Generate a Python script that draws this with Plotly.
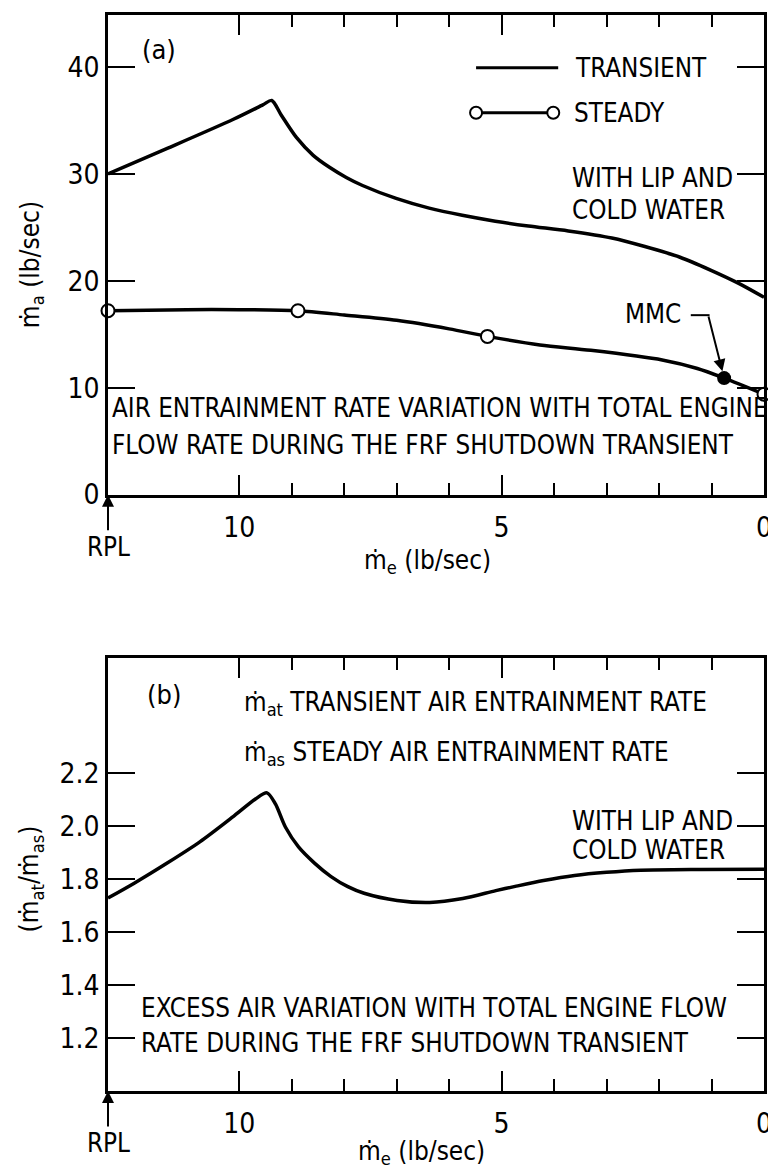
import plotly.graph_objects as go

# ---- data ----
transient_x = [12.5, 11.36, 10.11, 9.55, 9.38, 9.2, 8.91, 8.59, 8.28, 7.96, 7.65, 7.01, 6.38, 5.75,
               5.12, 4.49, 3.73, 2.9, 2.27, 1.6, 1.02, 0.5, 0.0]
transient_y = [30.0, 32.4, 35.1, 36.45, 36.86, 35.5, 33.4, 31.73, 30.61, 29.66, 28.91, 27.7, 26.79, 26.12,
               25.57, 25.12, 24.66, 24.0, 23.2, 22.2, 21.0, 19.8, 18.45]

steady_x = [12.5, 11.0, 10.0, 8.88, 8.0, 7.0, 6.0, 5.27, 4.27, 3.3, 1.94, 1.27, 0.76, 0.0]
steady_y = [17.2, 17.3, 17.3, 17.2, 16.8, 16.3, 15.5, 14.8, 14.0, 13.5, 12.6, 11.8, 10.9, 9.4]

steady_pts_x = [12.5, 8.88, 5.27, 0.0]
steady_pts_y = [17.2, 17.2, 14.8, 9.4]
mmc_x = [0.76]
mmc_y = [10.9]

ratio_x = [12.5, 12.0, 11.38, 10.75, 10.13, 9.69, 9.47, 9.31, 9.12, 8.87, 8.56, 8.25, 7.93, 7.62, 6.99,
           6.37, 5.74, 5.11, 4.74, 4.2, 3.61, 3.0, 2.35, 1.2, 0.0]
ratio_y = [1.728, 1.784, 1.859, 1.940, 2.033, 2.102, 2.125, 2.083, 1.996, 1.921, 1.859, 1.809, 1.771, 1.746, 1.719,
           1.711, 1.726, 1.756, 1.772, 1.794, 1.813, 1.825, 1.833, 1.836, 1.837]

top_yticks = [0, 10, 20, 30, 40]
bot_yticks = [1.2, 1.4, 1.6, 1.8, 2.0, 2.2]
x_major = [0, 5, 10]
x_minor = [1, 2, 3, 4, 6, 7, 8, 9]

FONT = "Liberation Sans Narrow, DejaVu Sans Condensed, Arial Narrow, sans-serif"
TXT = 25.8
OFF = 8  # page body margin
W, H = 776 - OFF, 1176 - OFF
L, R, T, B = 100, 5, 4, 85


def px(x):
    return (x - OFF - L) / (W - L - R)


def py(y):
    return (H - B - (y - OFF)) / (H - T - B)


fig = go.Figure()

line = dict(color="black", width=3.5, shape="spline", smoothing=0.8)
fig.add_trace(go.Scatter(x=transient_x, y=transient_y, mode="lines", line=line, xaxis="x", yaxis="y"))
fig.add_trace(go.Scatter(x=steady_x, y=steady_y, mode="lines", line=line, xaxis="x", yaxis="y"))
fig.add_trace(go.Scatter(x=steady_pts_x, y=steady_pts_y, mode="markers", cliponaxis=False,
                         marker=dict(size=13, color="white", line=dict(color="black", width=2)),
                         xaxis="x", yaxis="y"))
fig.add_trace(go.Scatter(x=mmc_x, y=mmc_y, mode="markers", cliponaxis=False,
                         marker=dict(size=14, color="black"), xaxis="x", yaxis="y"))
fig.add_trace(go.Scatter(x=ratio_x, y=ratio_y, mode="lines", line=line, xaxis="x2", yaxis="y2"))

xcommon = dict(
    range=[12.5, 0], tickvals=x_major, ticktext=["0", "5", "10"],
    ticks="inside", ticklen=20, tickwidth=2, tickcolor="black",
    minor=dict(tickvals=x_minor, ticks="inside", ticklen=12, tickwidth=2, tickcolor="black"),
    showline=True, linewidth=2.5, linecolor="black", mirror="ticks",
    showgrid=False, zeroline=False, ticklabelstandoff=6, ticklabeloverflow="allow",
    tickfont=dict(size=28, family=FONT, color="black"),
)
ycommon = dict(
    ticks="inside", ticklen=27, tickwidth=2, tickcolor="black",
    showline=True, linewidth=2.5, linecolor="black", mirror="ticks",
    showgrid=False, zeroline=False,
    tickfont=dict(size=28, family=FONT, color="black"),
)

fig.update_layout(
    width=W, height=H,
    margin=dict(l=L, r=R, t=T, b=B),
    paper_bgcolor="white", plot_bgcolor="white",
    showlegend=False,
    font=dict(family=FONT, size=TXT, color="black"),
    xaxis=dict(xcommon, domain=[0, 1], anchor="y"),
    yaxis=dict(ycommon, domain=[py(493), 1], range=[0, 44.85], tickvals=top_yticks, anchor="x"),
    xaxis2=dict(xcommon, domain=[0, 1], anchor="y2"),
    yaxis2=dict(ycommon, domain=[0, py(657)], range=[1.0, 2.633], tickvals=bot_yticks,
                ticktext=["1.2", "1.4", "1.6", "1.8", "2.0", "2.2"], anchor="x2"),
)


def note(text, x, y, xanchor="left", size=TXT, angle=0):
    fig.add_annotation(text=text, x=px(x), y=py(y), xref="paper", yref="paper",
                       xanchor=xanchor, yanchor="middle", showarrow=False, textangle=angle,
                       font=dict(size=size, family=FONT, color="black"), align="left")


# panel (a) texts
note("(a)", 140, 47, size=27)
note("TRANSIENT", 578, 65)
note("STEADY", 577, 110)
note("WITH LIP AND", 575, 175)
note("COLD WATER", 575, 208)
note("MMC", 628, 312)
note("AIR ENTRAINMENT RATE VARIATION WITH TOTAL ENGINE", 110, 406)
note("FLOW RATE DURING THE FRF SHUTDOWN TRANSIENT", 110, 443)
note("ṁ<sub>e</sub> (lb/sec)", 431, 560, xanchor="center", size=26)
note("ṁ<sub>a</sub> (lb/sec)", 30, 262, xanchor="center", size=26, angle=-90)

# panel (b) texts
note("(b)", 145, 693, size=27)
note("ṁ<sub>at</sub> TRANSIENT AIR ENTRAINMENT RATE", 243, 702)
note("ṁ<sub>as</sub> STEADY AIR ENTRAINMENT RATE", 243, 753)
note("WITH LIP AND", 575, 820)
note("COLD WATER", 575, 849)
note("EXCESS AIR VARIATION WITH TOTAL ENGINE FLOW", 139, 1008)
note("RATE DURING THE FRF SHUTDOWN TRANSIENT", 139, 1043)
note("ṁ<sub>e</sub> (lb/sec)", 425, 1153, xanchor="center", size=26)
note("(ṁ<sub>at</sub>/ṁ<sub>as</sub>)", 30, 878, xanchor="center", size=26, angle=-90)

# RPL arrows
for xr, yr, y0 in [("x", "y", 0), ("x2", "y2", 1.0)]:
    fig.add_annotation(text="RPL", x=12.5, y=y0, xref=xr, yref=yr, showarrow=True,
                       ax=0, ay=52, arrowhead=2, arrowsize=1.2, arrowwidth=2, arrowcolor="black",
                       font=dict(size=TXT, family=FONT, color="black"))

# MMC pointer
fig.add_shape(type="line", xref="paper", yref="paper", x0=px(697), x1=px(716), y0=py(313), y1=py(313),
              line=dict(color="black", width=2))
fig.add_annotation(text="", x=mmc_x[0], y=mmc_y[0], xref="x", yref="y", showarrow=True,
                   ax=-16, ay=-63, arrowhead=2, arrowsize=1.2, arrowwidth=2, arrowcolor="black", standoff=7)

# hand-drawn legend key
fig.add_shape(type="line", xref="paper", yref="paper", x0=px(480), x1=px(563), y0=py(65), y1=py(65),
              line=dict(color="black", width=3))
fig.add_shape(type="line", xref="paper", yref="paper", x0=px(480), x1=px(558), y0=py(110), y1=py(110),
              line=dict(color="black", width=3))
for cx in (480, 558):
    fig.add_shape(type="circle", xref="paper", yref="paper", xsizemode="pixel", ysizemode="pixel",
                  xanchor=px(cx), yanchor=py(110), x0=-6, x1=6, y0=-6, y1=6,
                  line=dict(color="black", width=2), fillcolor="white")

fig.write_html("out.html")
